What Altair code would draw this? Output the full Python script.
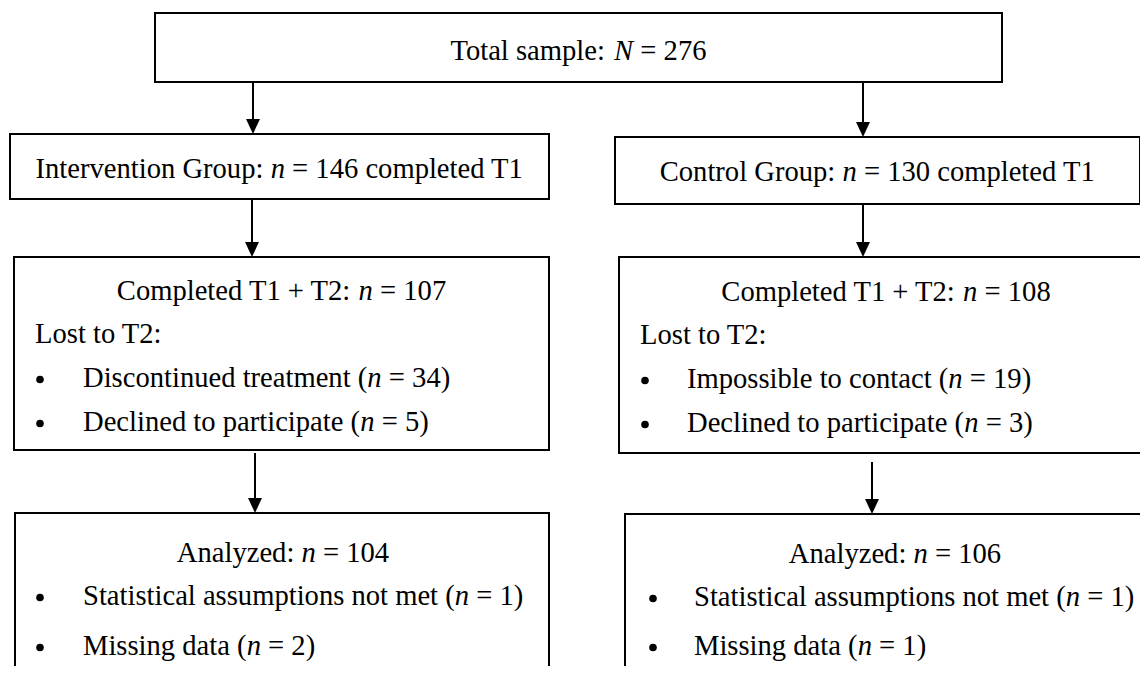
import altair as alt
import pandas as pd

# ---------------- data ----------------
total_n = 276
group_names = ["Intervention Group", "Control Group"]
group_n = [146, 130]
completed_n = [107, 108]
lost_reasons = [["Discontinued treatment", "Declined to participate"],
                ["Impossible to contact", "Declined to participate"]]
lost_n = [[34, 5], [19, 3]]
analyzed_n = [104, 106]
excluded_reasons = ["Statistical assumptions not met", "Missing data"]
excluded_n = [[1, 2], [1, 1]]

# ---------------- layout (page pixel coordinates) ----------------
W, H, M = 1148, 674, 8
FONT = "Liberation Serif"
FS = 28.6

# boxes: x1, x2, y1, y2
box_layout = {
    "total":   (155, 1002, 13, 82),
    "int":     (10, 549, 134, 199),
    "ctl":     (615, 1140, 137, 204),
    "comp_i":  (14, 549, 257, 450),
    "comp_c":  (619, 1170, 257, 453),
    "anal_i":  (15, 549, 513, 720),
    "anal_c":  (625, 1170, 514, 720),
}
# arrows: x, y start, y tip
arrow_layout = [
    (253, 82, 134), (863, 82, 137),
    (252, 199, 257), (863, 204, 257),
    (255, 453, 513), (872, 462, 514),
]
HEAD = 15  # arrow head length

# per-column text layout
col = [
    dict(cx_top=279.5, by_top=178, cx_comp=281.5, by_comp=300, lost_x=35, by_lost=343,
         bul_x=40, txt_x=83, by_bul=[387, 431], cx_anal=283, by_anal=562,
         bul2_x=40, txt2_x=83, by_bul2=[605, 655]),
    dict(cx_top=877.5, by_top=181, cx_comp=886, by_comp=301, lost_x=640, by_lost=344,
         bul_x=645, txt_x=687, by_bul=[388, 432], cx_anal=895, by_anal=563,
         bul2_x=653, txt2_x=694, by_bul2=[606, 655]),
]

# Times / Liberation Serif advance widths (1/1000 em)
REG = {' ': 250, '(': 333, ')': 333, '+': 564, ':': 278, '=': 564,
       'A': 722, 'C': 667, 'D': 722, 'G': 722, 'I': 333, 'L': 611, 'M': 889,
       'N': 722, 'S': 556, 'T': 611,
       'a': 444, 'b': 500, 'c': 444, 'd': 500, 'e': 444, 'f': 333, 'g': 500,
       'h': 500, 'i': 278, 'k': 500, 'l': 278, 'm': 778, 'n': 500, 'o': 500,
       'p': 500, 'r': 333, 's': 389, 't': 278, 'u': 500, 'v': 500, 'y': 500,
       'z': 444}
ITA = {'n': 500, 'N': 667}


def tw(s, italic=False):
    tab = ITA if italic else REG
    return sum(tab.get(c, 500) for c in s) * FS / 1000.0


text_rows = []


def place(segs, y, x=None, center=None):
    total = sum(tw(t, it) for t, it in segs)
    cur = x if x is not None else center - total / 2.0
    for t, it in segs:
        core = t.strip(' ')
        if not core:
            cur += tw(t)
            continue
        lead = len(t) - len(t.lstrip(' '))
        trail = len(t) - len(t.rstrip(' '))
        cur += tw(' ' * lead)
        text_rows.append(dict(x=cur, y=y, text=core, italic=it))
        cur += tw(core, it) + tw(' ' * trail)


def rich(prefix, var, suffix):
    return [(prefix, False), (var, True), (suffix, False)]


# top box
tb = box_layout["total"]
place(rich("Total sample: ", "N", f" = {total_n}"), 60, center=(tb[0] + tb[1]) / 2)

bullet_rows = []
for i in range(2):
    c = col[i]
    place(rich(f"{group_names[i]}: ", "n", f" = {group_n[i]} completed T1"), c["by_top"], center=c["cx_top"])
    place(rich("Completed T1 + T2: ", "n", f" = {completed_n[i]}"), c["by_comp"], center=c["cx_comp"])
    place([("Lost to T2:", False)], c["by_lost"], x=c["lost_x"])
    for j in range(2):
        place(rich(f"{lost_reasons[i][j]} (", "n", f" = {lost_n[i][j]})"), c["by_bul"][j], x=c["txt_x"])
        bullet_rows.append(dict(x=c["bul_x"], y=c["by_bul"][j] - 7.5))
    place(rich("Analyzed: ", "n", f" = {analyzed_n[i]}"), c["by_anal"], center=c["cx_anal"])
    for j in range(2):
        place(rich(f"{excluded_reasons[j]} (", "n", f" = {excluded_n[i][j]})"), c["by_bul2"][j], x=c["txt2_x"])
        bullet_rows.append(dict(x=c["bul2_x"], y=c["by_bul2"][j] - 7.5))

box_df = pd.DataFrame([dict(name=k, x1=v[0], x2=v[1], y1=v[2], y2=v[3]) for k, v in box_layout.items()])
arrow_df = pd.DataFrame([dict(x=a[0], y0=a[1], ys=a[2] - HEAD + 2, yh=a[2] - HEAD / 2.0) for a in arrow_layout])
text_df = pd.DataFrame(text_rows)
bullet_df = pd.DataFrame(bullet_rows)

xs = alt.Scale(domain=[M, W - M], nice=False, zero=False)
ys = alt.Scale(domain=[M, H - M], nice=False, zero=False, reverse=True)


def X(f):
    return alt.X(f, type="quantitative", scale=xs, axis=None)


def Y(f):
    return alt.Y(f, type="quantitative", scale=ys, axis=None)


boxes = alt.Chart(box_df).mark_rect(fill="white", stroke="black", strokeWidth=2, clip=True).encode(
    x=X("x1"), x2="x2", y=Y("y1"), y2="y2")
shafts = alt.Chart(arrow_df).mark_rule(color="black", strokeWidth=2).encode(
    x=X("x"), y=Y("y0"), y2="ys")
heads = alt.Chart(arrow_df).mark_point(
    shape="M0,1L-0.93,-1L0.93,-1Z", filled=True, size=HEAD * HEAD, color="black",
    opacity=1, strokeWidth=0).encode(x=X("x"), y=Y("yh"))
bullets = alt.Chart(bullet_df).mark_point(
    shape="circle", filled=True, size=58, color="black", opacity=1, strokeWidth=0).encode(
    x=X("x"), y=Y("y"))
txt_reg = alt.Chart(text_df[~text_df["italic"]]).mark_text(
    font=FONT, fontSize=FS, align="left", baseline="alphabetic", color="black").encode(
    x=X("x"), y=Y("y"), text="text:N")
txt_ita = alt.Chart(text_df[text_df["italic"]]).mark_text(
    font=FONT, fontSize=FS, fontStyle="italic", align="left", baseline="alphabetic", color="black").encode(
    x=X("x"), y=Y("y"), text="text:N")

chart = alt.layer(boxes, shafts, heads, bullets, txt_reg, txt_ita).properties(
    width=W - 2 * M, height=H - 2 * M, padding=0,
    autosize=alt.AutoSizeParams(type="none"),
    background="white",
).configure_view(stroke=None)

chart.save("out.html", embed_options={"renderer": "svg", "actions": False})
